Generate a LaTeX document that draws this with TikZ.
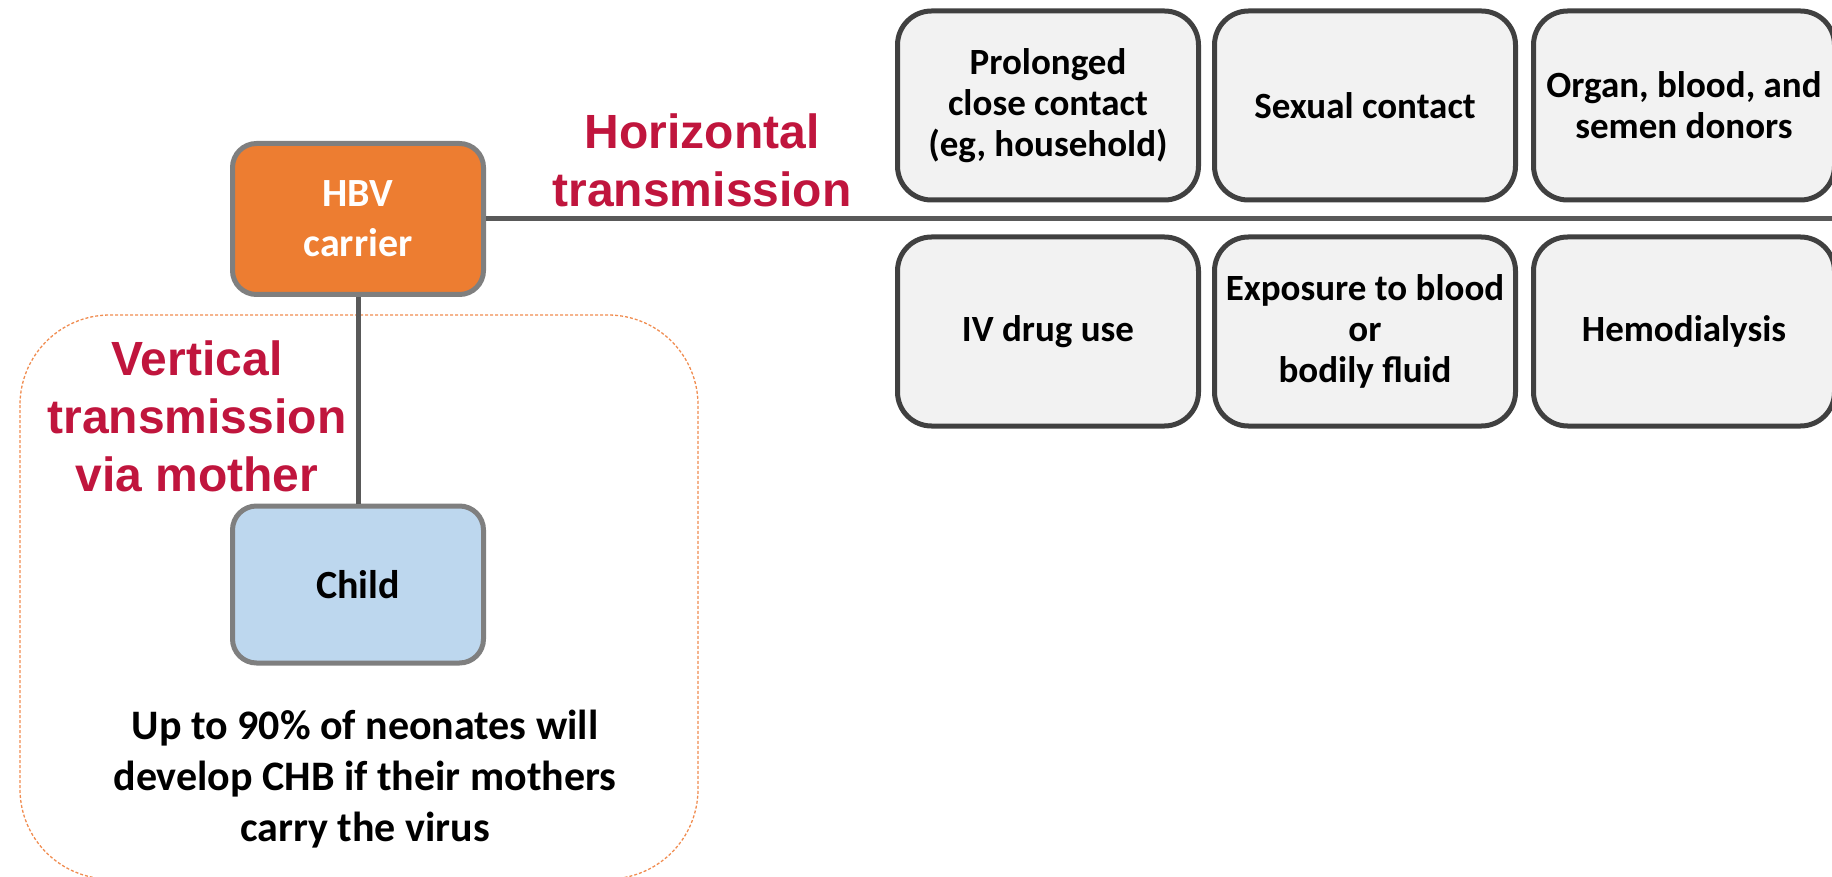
\documentclass[tikz,border=0pt]{standalone}
\usepackage{fontspec}
\setmainfont{Carlito}
\newfontfamily\lblfont{Liberation Sans}
\definecolor{hbvred}{RGB}{192,21,61}
\definecolor{hbvorange}{HTML}{ED7D31}
\definecolor{dashorange}{RGB}{240,140,80}
\definecolor{childblue}{HTML}{BDD7EE}
\definecolor{boxfill}{HTML}{F2F2F2}
\definecolor{boxline}{HTML}{404040}
\definecolor{persline}{HTML}{7F7F7F}
\definecolor{linkgray}{HTML}{595959}

\begin{document}
\begin{tikzpicture}[x=1pt,y=-1pt,
  route/.style={draw=boxline,fill=boxfill,line width=5pt,rounded corners=34pt,minimum width=301pt,minimum height=189pt,inner sep=0pt,align=center,font=\bfseries\fontsize{37}{41}\selectfont},
  person/.style={draw=persline,line width=5pt,rounded corners=24pt,minimum width=251pt,inner sep=0pt,align=center,font=\bfseries\fontsize{40}{50}\selectfont},
  mode/.style={text=hbvred,align=center,anchor=base,font=\lblfont\bfseries\fontsize{48}{58}\selectfont},
  link/.style={draw=linkgray,line width=5pt}]
\useasboundingbox (0,0) rectangle (1832,877);
% mother-to-child frame
\draw [dashorange,line width=1.3pt,dash pattern=on 3pt off 2pt,rounded corners=90pt] (20,315) rectangle (698,879);
\node [person,fill=hbvorange,text=white,minimum height=151pt] (carrier) at (358,219) {HBV\\carrier};
\node [person,fill=childblue,minimum height=157pt] (child) at (358,584.5) {Child};
\coordinate (hend) at (1832,219);
\draw [link] (carrier.east) -- (hend);
\draw [link] (carrier.south) -- (child.north);
% horizontal routes
\node [route] (contact) at (1048,105.5) {Prolonged\\close contact\\(eg, household)};
\node [route] (sexual) at (1365,105.5) {Sexual contact};
\node [route] (donors) at (1684,105.5) {Organ, blood, and\\semen donors};
\node [route] (ivdrug) at (1048,331.5) {IV drug use};
\node [route] (fluid) at (1365,331.5) {Exposure to blood\\or\\bodily fluid};
\node [route] (dialysis) at (1684,331.5) {Hemodialysis};
% labels (base = last line)
\node [mode] (horiz) at (702,207) {Horizontal\\transmission};
\node [mode] (vert) at (197,491) {Vertical\\transmission\\via mother};
\node [align=center,anchor=base,font=\bfseries\fontsize{42}{51}\selectfont] (risk) at (365,841) {Up to 90\% of neonates will\\develop CHB if their mothers\\carry the virus};
\end{tikzpicture}
\end{document}
